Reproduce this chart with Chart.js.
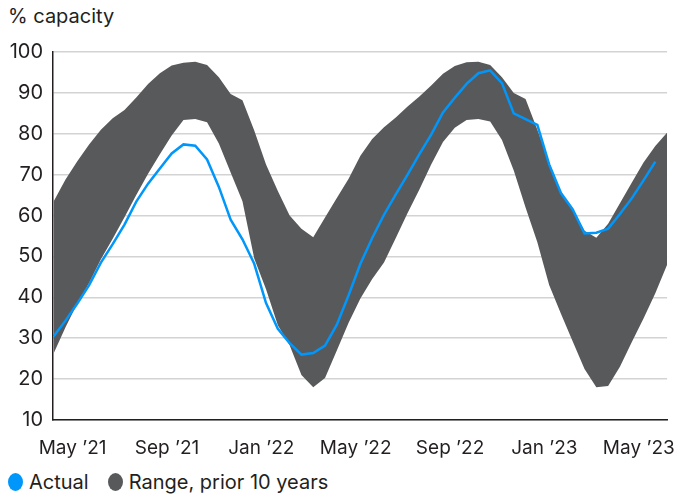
<!DOCTYPE html>
<html>
<head>
<meta charset="utf-8">
<script src="https://cdn.jsdelivr.net/npm/chart.js@4.4.0/dist/chart.umd.min.js"></script>
<style>
    body { margin: 0; background: #fff; }
    #wrap { position: relative; width: 684px; height: 496px; font-family: Inter, 'Open Sans', sans-serif; color: #231f20; }
    #title { position: absolute; left: 8px; top: 4px; font-size: 20px; }
    #taskChart { position: absolute; left: 0; top: 30px; }
    #legend { position: absolute; left: 8px; top: 470px; font-size: 20px; display: flex; align-items: center; }
    #legend .item { display: flex; align-items: center; margin-right: 19px; }
    #legend .dot { width: 15px; height: 18px; border-radius: 50%; margin-right: 6px; }
</style>
</head>
<body>
<div id="wrap">
    <div id="title">% capacity</div>
    <canvas id="taskChart" width="684" height="430"></canvas>
    <div id="legend">
        <div class="item"><span class="dot" style="background:#0096fa"></span>Actual</div>
        <div class="item"><span class="dot" style="background:#58595b"></span>Range, prior 10 years</div>
    </div>
</div>
<script>
// x positions in months after May '21
const monthPos = [
    -0.8, -0.3, 0.2, 0.7, 1.2, 1.7, 2.2, 2.7, 3.2, 3.7,
    4.2, 4.7, 5.2, 5.7, 6.2, 6.7, 7.2, 7.7, 8.2, 8.7,
    9.2, 9.7, 10.2, 10.7, 11.2, 11.7, 12.2, 12.7, 13.2, 13.7,
    14.2, 14.7, 15.2, 15.7, 16.2, 16.7, 17.2, 17.7, 18.2, 18.7,
    19.2, 19.7, 20.2, 20.7, 21.2, 21.7, 22.2, 22.7, 23.2, 23.7,
    24.2, 24.7, 25.2
];

const rangeHigh = [
    63.5, 68.8, 73.3, 77.4, 81.0, 83.8, 85.8, 88.9, 92.2, 94.8,
    96.7, 97.4, 97.6, 96.8, 93.8, 89.7, 88.2, 80.8, 72.5, 66.0,
    60.0, 56.8, 54.7, 59.5, 64.3, 69.0, 74.6, 78.7, 81.6, 84.0,
    86.7, 89.1, 91.8, 94.7, 96.6, 97.5, 97.6, 96.8, 93.8, 90.0,
    88.5, 81.0, 73.0, 65.4, 61.5, 56.3, 54.6, 58.0, 63.0, 68.0,
    73.0, 77.0, 80.3
];

const rangeLow = [
    26.3, 32.7, 38.5, 43.5, 49.3, 54.3, 59.6, 65.0, 70.2, 75.0,
    79.6, 83.4, 83.6, 82.8, 77.6, 70.5, 63.5, 49.5, 42.0, 33.2,
    28.3, 21.0, 18.0, 20.3, 27.0, 33.8, 39.7, 44.5, 48.5, 54.5,
    60.6, 66.4, 72.5, 78.0, 81.5, 83.4, 83.6, 83.0, 78.5, 71.0,
    62.0, 53.5, 43.0, 36.0, 29.2, 22.5, 18.0, 18.3, 23.0, 29.0,
    34.8, 41.0, 48.0
];

const actual = [
    30.5, 34.3, 38.5, 43.0, 48.5, 53.0, 57.8, 63.4, 67.8, 71.5,
    75.2, 77.4, 77.1, 73.7, 67.0, 59.0, 54.2, 48.2, 38.6, 32.3,
    28.8, 26.0, 26.4, 28.2, 33.3, 40.5, 48.2, 54.5, 60.2, 65.2,
    70.0, 75.0, 79.8, 85.2, 88.8, 92.2, 94.8, 95.5, 92.4, 85.0,
    83.6, 82.2, 72.5, 65.5, 61.5, 55.6, 55.8, 56.8, 60.4, 64.2,
    68.6, 73.2, null
];

const tickPos = [0, 4, 8, 12, 16, 20, 24];
const tickLabels = ['May \u201921', 'Sep \u201921', 'Jan \u201922', 'May \u201922', 'Sep \u201922', 'Jan \u201923', 'May \u201923'];

const toPoints = arr => monthPos.map((m, i) => ({ x: m, y: arr[i] }));
const textColor = '#231f20';
const fontFamily = "Inter, 'Open Sans', sans-serif";

function createChart() {
    const ctx = document.getElementById('taskChart').getContext('2d');

    new Chart(ctx, {
        type: 'line',
        data: {
            datasets: [
                {
                    label: 'Actual',
                    data: toPoints(actual),
                    borderColor: '#0096fa',
                    borderWidth: 2.5,
                    pointRadius: 0,
                    fill: false,
                    order: 0
                },
                {
                    label: 'Range low',
                    data: toPoints(rangeLow),
                    borderWidth: 0,
                    pointRadius: 0,
                    fill: false,
                    order: 2
                },
                {
                    label: 'Range, prior 10 years',
                    data: toPoints(rangeHigh),
                    borderWidth: 0,
                    pointRadius: 0,
                    backgroundColor: '#58595b',
                    fill: '-1',
                    order: 1
                }
            ]
        },
        options: {
            responsive: false,
            animation: false,
            layout: { padding: { top: 21, right: 6, bottom: 0, left: 0 } },
            plugins: {
                legend: { display: false },
                tooltip: { enabled: false },
                title: { display: false }
            },
            scales: {
                x: {
                    type: 'linear',
                    min: -0.83,
                    max: 25.2,
                    afterBuildTicks: scale => {
                        scale.ticks = tickPos.map(v => ({ value: v }));
                    },
                    afterFit: scale => { scale.height = 40; },
                    ticks: {
                        autoSkip: false,
                        maxRotation: 0,
                        padding: 9,
                        color: textColor,
                        font: { family: fontFamily, size: 19 },
                        callback: function(value) {
                            const i = tickPos.indexOf(value);
                            return i >= 0 ? tickLabels[i] : '';
                        }
                    },
                    grid: { display: false },
                    border: { display: true, color: textColor, width: 1.5 }
                },
                y: {
                    min: 10,
                    max: 100,
                    afterFit: scale => { scale.width = 53; },
                    ticks: {
                        stepSize: 10,
                        padding: 10,
                        color: textColor,
                        font: { family: fontFamily, size: 20 }
                    },
                    grid: {
                        color: '#d3d3d3',
                        lineWidth: 1.5,
                        drawTicks: false
                    },
                    border: { display: true, color: textColor, width: 1.5 }
                }
            }
        }
    });
}

window.addEventListener('load', createChart);
</script>
</body>
</html>
